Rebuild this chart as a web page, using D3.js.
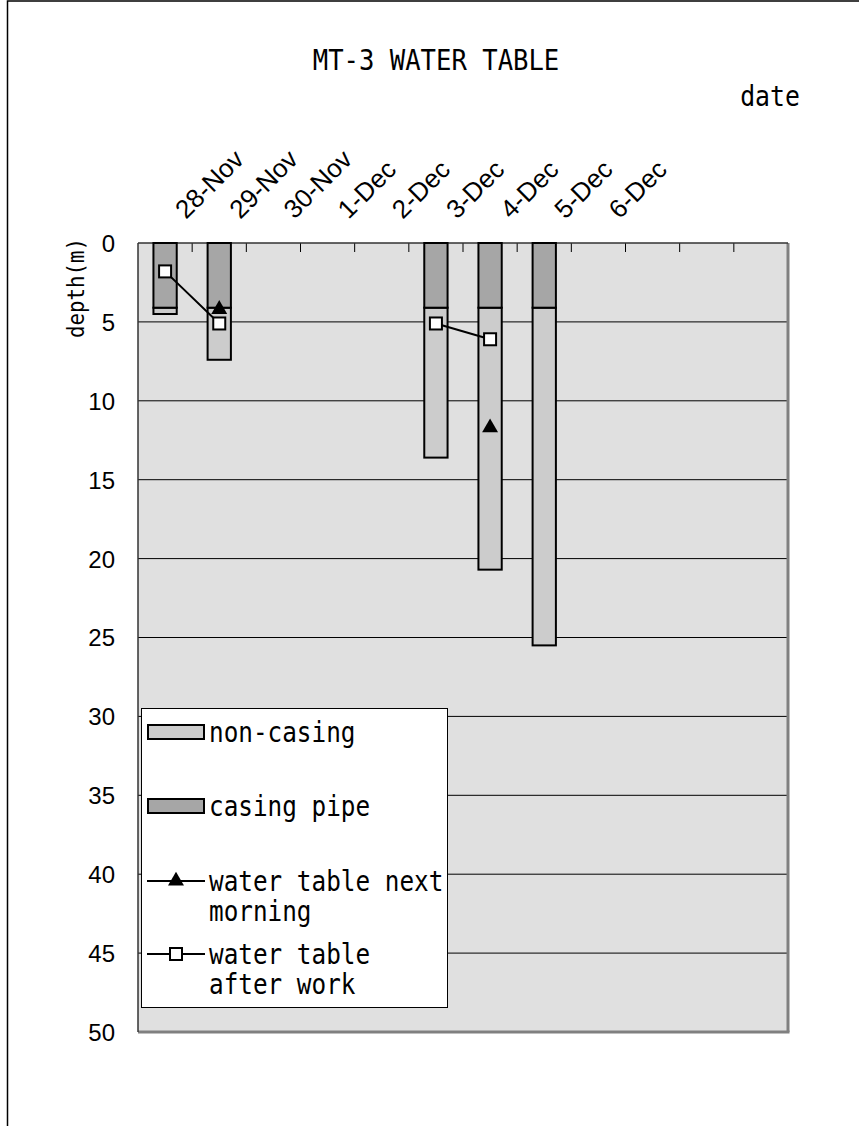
<!DOCTYPE html>
<html><head><meta charset="utf-8">
<script src="https://cdn.jsdelivr.net/npm/d3@7"></script>
<style>body{margin:0;background:#fff}</style>
</head><body>
<script>
// ---- data ----
const dateLabels = ["28-Nov","29-Nov","30-Nov","1-Dec","2-Dec","3-Dec","4-Dec","5-Dec","6-Dec","","",""];
const casingPipe = [4.1, 4.1, null, null, null, 4.1, 4.1, 4.1, null, null, null, null];
const nonCasing  = [0.4, 3.3, null, null, null, 9.5, 16.6, 21.4, null, null, null, null];
const waterNextMorning = [null, 4.2, null, null, null, null, 11.7, null, null, null, null, null];
const waterAfterWork   = [1.8, 5.1, null, null, null, 5.1, 6.1, null, null, null, null, null];
const yTicks = [0,5,10,15,20,25,30,35,40,45,50];
const legendItems = ["non-casing","casing pipe","water table next|morning","water table|after work"];

const W = 859, H = 1126;
const P = {l:138, r:788, t:243, b:1032};
const MONO = "'DejaVu Sans Mono', monospace";
const SANS = "'Liberation Sans', Arial, sans-serif";

const svg = d3.select("body").append("svg").attr("width", W).attr("height", H);
svg.append("rect").attr("width", W).attr("height", H).attr("fill", "#fff");
// outer chart border
svg.append("rect").attr("x", 7.5).attr("y", 1).attr("width", 1000).attr("height", 1300)
  .attr("fill", "none").attr("stroke", "#000").attr("stroke-width", 1.5);

function monoText(g, x, y, str, anchor, size, sx) {
  return g.append("text").attr("transform", `translate(${x},${y}) scale(${sx || 0.885},1)`)
    .attr("font-family", MONO).attr("font-size", size || 27.5).attr("fill", "#000")
    .attr("text-anchor", anchor || "start").text(str);
}

monoText(svg, 436, 70, "MT-3 WATER TABLE", "middle", 29, 0.883);
monoText(svg, 770, 106, "date", "middle", 28, 0.885);

const x = d3.scaleBand().domain(d3.range(dateLabels.length)).range([P.l, P.r]).padding(0);
const y = d3.scaleLinear().domain([0, 50]).range([P.t, P.b]);
const barW = x.bandwidth() * 0.43;
const cx = i => x(i) + x.bandwidth() / 2;

// plot background
svg.append("rect").attr("x", P.l).attr("y", P.t).attr("width", P.r - P.l).attr("height", P.b - P.t)
  .attr("fill", "#e0e0e0");

// gridlines
svg.append("g").selectAll("line").data(yTicks.filter(v => v > 0 && v < 50)).join("line")
  .attr("x1", P.l).attr("x2", P.r).attr("y1", d => y(d)).attr("y2", d => y(d))
  .attr("stroke", "#000").attr("stroke-width", 1);

// x ticks (category boundaries), inward from top axis
svg.append("g").selectAll("line").data(d3.range(1, dateLabels.length)).join("line")
  .attr("x1", d => x(d)).attr("x2", d => x(d)).attr("y1", P.t).attr("y2", P.t + 9)
  .attr("stroke", "#000").attr("stroke-width", 1);

// plot border
svg.append("line").attr("x1", P.r).attr("x2", P.r).attr("y1", P.t).attr("y2", P.b)
  .attr("stroke", "#808080").attr("stroke-width", 3);
svg.append("line").attr("x1", P.l).attr("x2", P.r + 1.5).attr("y1", P.b).attr("y2", P.b)
  .attr("stroke", "#808080").attr("stroke-width", 3);
svg.append("line").attr("x1", P.l).attr("x2", P.r).attr("y1", P.t).attr("y2", P.t)
  .attr("stroke", "#333", ).attr("stroke-width", 1.5);
svg.append("line").attr("x1", P.l).attr("x2", P.l).attr("y1", P.t).attr("y2", P.b)
  .attr("stroke", "#333").attr("stroke-width", 1.5);

// y axis labels
const yAxis = d3.axisLeft(y).tickValues(yTicks).tickSize(0).tickPadding(23);
const ya = svg.append("g").attr("transform", `translate(${P.l},0)`).call(yAxis);
ya.select(".domain").remove();
ya.selectAll("text").attr("font-family", SANS).attr("font-size", 24).attr("fill", "#000").attr("dy", "0.35em");

// x labels (rotated)
svg.append("g").selectAll("text").data(dateLabels.map((d, i) => ({d, i})).filter(o => o.d)).join("text")
  .attr("transform", o => `translate(${cx(o.i) + 21},${P.t - 23}) rotate(-45)`)
  .attr("font-family", SANS).attr("font-size", 26).attr("fill", "#000")
  .attr("text-anchor", "start").text(o => o.d);

// y title
svg.append("text").attr("transform", `translate(84,238) rotate(-90) scale(0.885,1)`)
  .attr("font-family", MONO).attr("font-size", 23.5).attr("text-anchor", "end").attr("fill", "#000")
  .text("depth(m)");

// stacked bars
const barData = dateLabels.map((d, i) => ({i, c: casingPipe[i], n: nonCasing[i]})).filter(o => o.c != null);
const bars = svg.append("g");
bars.selectAll("rect.nc").data(barData).join("rect").attr("class", "nc")
  .attr("x", o => cx(o.i) - barW / 2).attr("width", barW)
  .attr("y", o => y(o.c)).attr("height", o => y(o.c + o.n) - y(o.c))
  .attr("fill", "#cccccc").attr("stroke", "#000").attr("stroke-width", 2);
bars.selectAll("rect.cs").data(barData).join("rect").attr("class", "cs")
  .attr("x", o => cx(o.i) - barW / 2).attr("width", barW)
  .attr("y", y(0)).attr("height", o => y(o.c) - y(0))
  .attr("fill", "#a6a6a6").attr("stroke", "#000").attr("stroke-width", 2);

// lines
const line = d3.line().defined(d => d.v != null).x(d => cx(d.i)).y(d => y(d.v));
const am = waterAfterWork.map((v, i) => ({i, v}));
const nm = waterNextMorning.map((v, i) => ({i, v}));
svg.append("path").attr("d", line(nm)).attr("fill", "none").attr("stroke", "#000").attr("stroke-width", 2);
svg.append("path").attr("d", line(am)).attr("fill", "none").attr("stroke", "#000").attr("stroke-width", 2);

const tri = d3.symbol().type(d3.symbolTriangle).size(110);
svg.append("g").selectAll("path").data(nm.filter(d => d.v != null)).join("path")
  .attr("transform", d => `translate(${cx(d.i)},${y(d.v)})`).attr("d", tri()).attr("fill", "#000");
svg.append("g").selectAll("rect").data(am.filter(d => d.v != null)).join("rect")
  .attr("x", d => cx(d.i) - 6).attr("y", d => y(d.v) - 6).attr("width", 12).attr("height", 12)
  .attr("fill", "#fff").attr("stroke", "#000").attr("stroke-width", 2);

// legend
const lg = svg.append("g");
lg.append("rect").attr("x", 141.5).attr("y", 708.5).attr("width", 306).attr("height", 299)
  .attr("fill", "#fff").attr("stroke", "#000").attr("stroke-width", 1);
const rowsY = [732, 806, 881, 954];
const swFill = ["#cccccc", "#a6a6a6"];
legendItems.forEach((lab, k) => {
  const yy = rowsY[k];
  if (k < 2) {
    lg.append("rect").attr("x", 148).attr("y", yy - 7).attr("width", 56).attr("height", 14)
      .attr("fill", swFill[k]).attr("stroke", "#000").attr("stroke-width", 2);
  } else {
    lg.append("line").attr("x1", 147).attr("x2", 205).attr("y1", yy).attr("y2", yy)
      .attr("stroke", "#000").attr("stroke-width", 2);
    if (k === 2) lg.append("path").attr("transform", `translate(176,${yy})`).attr("d", tri()).attr("fill", "#000");
    else lg.append("rect").attr("x", 170).attr("y", yy - 6).attr("width", 12).attr("height", 12)
      .attr("fill", "#fff").attr("stroke", "#000").attr("stroke-width", 2);
  }
  lab.split("|").forEach((ln, j) => {
    monoText(lg, 209, yy + 10 + j * 30, ln, "start");
  });
});
</script>
</body></html>
